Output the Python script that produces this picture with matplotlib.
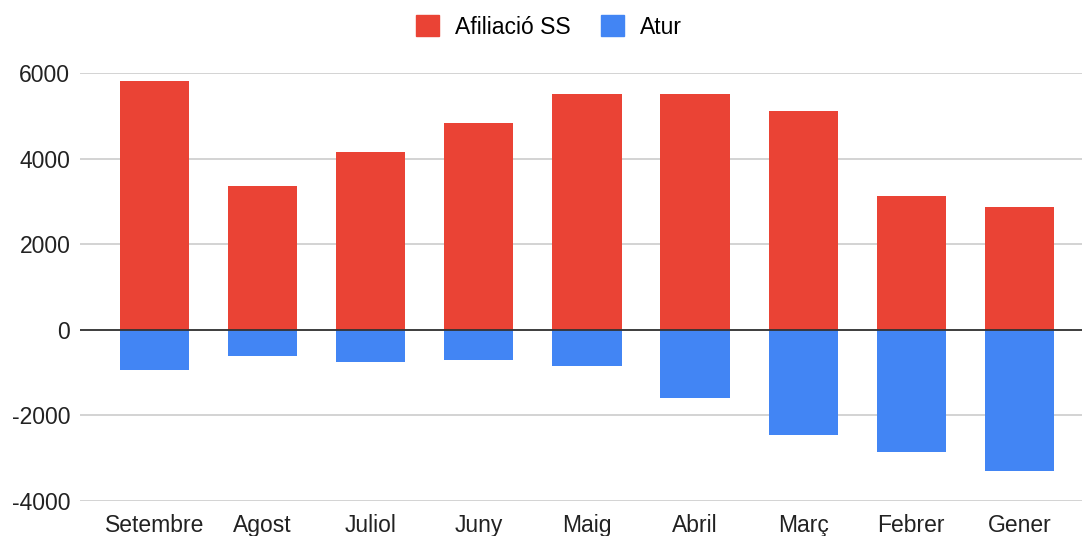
import numpy as np
import matplotlib.pyplot as plt
from matplotlib.patches import Patch

months = ["Setembre", "Agost", "Juliol", "Juny", "Maig", "Abril", "Març", "Febrer", "Gener"]
afiliacio = [5815, 3360, 4155, 4830, 5510, 5510, 5110, 3130, 2870]
atur = [-935, -620, -755, -705, -845, -1605, -2455, -2855, -3305]

red = "#EA4335"
blue = "#4285F4"

plt.rcParams['font.family'] = ['Liberation Sans', 'DejaVu Sans']
plt.rcParams['axes.unicode_minus'] = False

fig = plt.figure(figsize=(10.82, 5.36), dpi=100)
ax = fig.add_axes([80/1082, 1 - 501/536, 1 - 80/1082, (501 - 73)/536])

x = np.arange(len(months))
ax.bar(x, afiliacio, width=0.64, color=red, zorder=2)
ax.bar(x, atur, width=0.64, color=blue, zorder=2)

ax.set_ylim(-4000, 6000)
ax.set_xlim(-0.69, 8.58)
ax.set_yticks([-4000, -2000, 0, 2000, 4000, 6000])
ax.set_xticks(x)
ax.set_xticklabels(months)
ax.grid(axis='y', color='#cccccc', linewidth=1.2, zorder=0)
ax.axhline(0, color='#333333', linewidth=1.3, zorder=3)

for s in ax.spines.values():
    s.set_visible(False)
ax.tick_params(length=0, labelsize=16.5, colors='#222222')
ax.tick_params(axis='y', pad=7)
ax.tick_params(axis='x', pad=9.5)

handles = [Patch(color=red, label="Afiliació SS"), Patch(color=blue, label="Atur")]
fig.legend(handles=handles, loc='center', bbox_to_anchor=(549/1082, 1 - 27/536), ncol=2,
           frameon=False, fontsize=16.5, handlelength=1.0, handleheight=1.0,
           handletextpad=0.7, columnspacing=1.3, borderpad=0)

fig.savefig("out.png", dpi=100)
